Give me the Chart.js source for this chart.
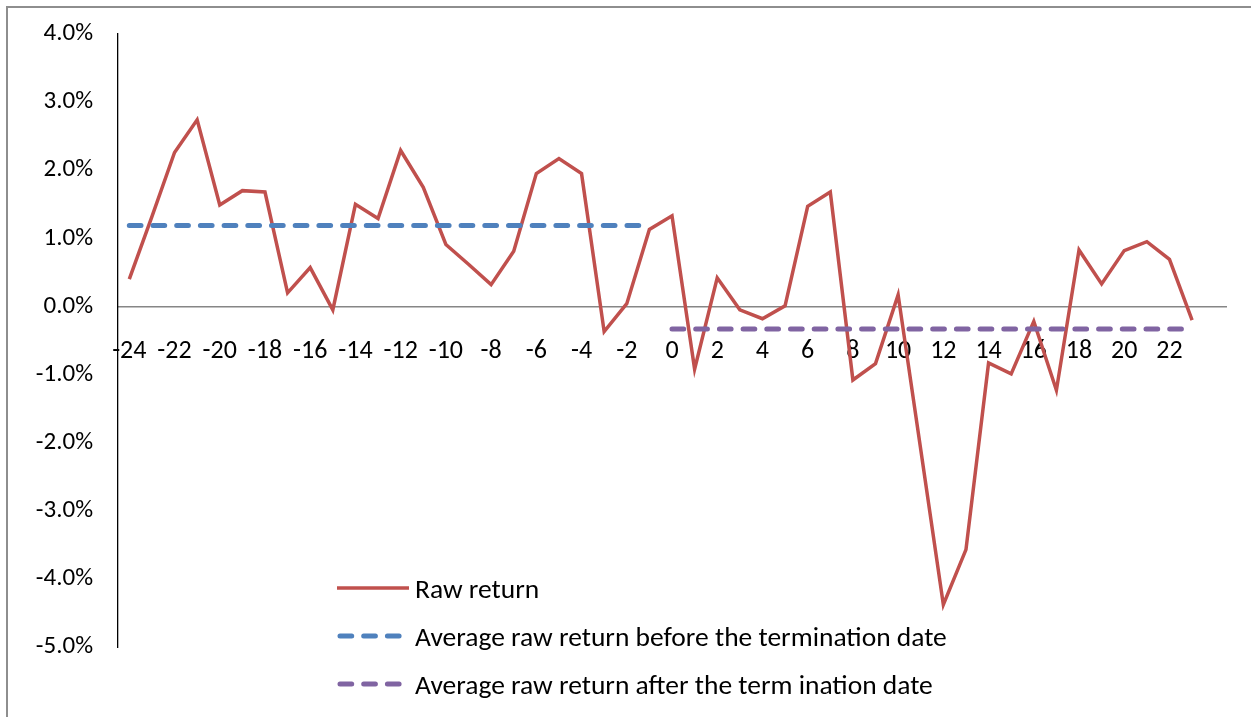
<!DOCTYPE html>
<html>
<head>
<meta charset="utf-8">
<script src="https://cdn.jsdelivr.net/npm/chart.js@4.4.1/dist/chart.umd.min.js"></script>
<style>
  html, body { margin: 0; padding: 0; background: #fff; overflow: hidden; }
  #wrap { position: relative; width: 1251px; height: 717px; }
  #frame {
    position: absolute; left: 6px; top: 6px; width: 1300px; height: 800px;
    border: 2px solid #8e8e8e; box-sizing: border-box;
  }
  #chart { position: absolute; left: 0; top: 0; }
  .leg {
    position: absolute; left: 335px; height: 30px;
    font-family: Carlito, Lato, "Liberation Sans", sans-serif; font-size: 27.5px; color: #000;
    display: flex; align-items: center; white-space: nowrap;
  }
  .leg svg { margin-right: 4px; }
</style>
</head>
<body>
<div id="wrap">
  <div id="frame"></div>
  <canvas id="chart" width="1251" height="717"></canvas>
  <div class="leg" style="top:573px">
    <svg width="76" height="10"><line x1="2" y1="5" x2="74" y2="5" stroke="#C0504D" stroke-width="3.5"/></svg>
    Raw return
  </div>
  <div class="leg" style="top:621px">
    <svg width="76" height="10"><line x1="5" y1="5" x2="72" y2="5" stroke="#4F81BD" stroke-width="5" stroke-linecap="round" stroke-dasharray="11.7 12"/></svg>
    Average raw return before the termination date
  </div>
  <div class="leg" style="top:669px">
    <svg width="76" height="10"><line x1="5" y1="5" x2="72" y2="5" stroke="#8064A2" stroke-width="5" stroke-linecap="round" stroke-dasharray="11.7 12"/></svg>
    Average raw return after the term ination date
  </div>
</div>

<script>
// months relative to the termination date (last slot is an empty category)
const months = ['-24','-23','-22','-21','-20','-19','-18','-17','-16','-15','-14','-13',
  '-12','-11','-10','-9','-8','-7','-6','-5','-4','-3','-2','-1',
  '0','1','2','3','4','5','6','7','8','9','10','11',
  '12','13','14','15','16','17','18','19','20','21','22','23',''];

// raw return, in percent
const rawReturn = [0.40, 1.32, 2.26, 2.74, 1.49, 1.70, 1.68, 0.20, 0.57, -0.05, 1.50, 1.29,
  2.29, 1.75, 0.91, 0.62, 0.32, 0.81, 1.95, 2.17, 1.95, -0.37, 0.04, 1.13,
  1.33, -0.92, 0.42, -0.05, -0.18, 0.01, 1.47, 1.68, -1.08, -0.84, 0.17, -2.10,
  -4.38, -3.57, -0.83, -0.99, -0.22, -1.23, 0.83, 0.33, 0.82, 0.95, 0.69, -0.20];

// averages: flat lines, start and end month
const avgBeforeX = ['-24', '-1'];
const avgBefore = [1.19, 1.19];
const avgAfterX = ['0', '23'];
const avgAfter = [-0.33, -0.33];

const yTicks = [4, 3, 2, 1, 0, -1, -2, -3, -4, -5];

const FONT = "Carlito, Lato, 'Liberation Sans', sans-serif";

const toPoints = (xs, ys) => xs.map((x, i) => ({ x: x, y: ys[i] }));

new Chart(document.getElementById("chart"), {
  type: "line",
  data: {
    labels: months,
    datasets: [
      {
        label: "Raw return",
        data: rawReturn,
        borderColor: "#C0504D",
        borderWidth: 3.5,
        pointRadius: 0,
        tension: 0,
        order: 2
      },
      {
        label: "Average raw return before the termination date",
        data: toPoints(avgBeforeX, avgBefore),
        borderColor: "#4F81BD",
        borderWidth: 5,
        borderDash: [11.7, 12],
        borderCapStyle: "round",
        pointRadius: 0,
        order: 1
      },
      {
        label: "Average raw return after the term ination date",
        data: toPoints(avgAfterX, avgAfter),
        borderColor: "#8064A2",
        borderWidth: 5,
        borderDash: [11.7, 12],
        borderCapStyle: "round",
        pointRadius: 0,
        order: 1
      }
    ]
  },
  options: {
    responsive: false,
    animation: false,
    layout: { padding: { left: 0, top: 34, right: 25, bottom: 70 } },
    plugins: {
      legend: { display: false },
      tooltip: { enabled: false }
    },
    scales: {
      x: {
        type: "category",
        offset: true,
        position: { y: 0 },
        grid: { drawOnChartArea: false, drawTicks: false },
        border: { display: true, color: "#868686", width: 1.5 },
        ticks: {
          autoSkip: false,
          maxRotation: 0,
          padding: 29,
          color: "#000",
          font: { family: FONT, size: 26 },
          callback: function (v, i) {
            const l = months[i];
            return (i % 2 === 0 && l !== '') ? l : '';
          }
        }
      },
      y: {
        min: -5,
        max: 4,
        afterFit: s => {
          s.width = 118;
          // don't let the label padding push the plot area down
          s.paddingTop = 0;
          s.paddingBottom = 0;
        },
        afterBuildTicks: s => { s.ticks = yTicks.map(v => ({ value: v })); },
        grid: { drawOnChartArea: false, drawTicks: false },
        border: { display: true, color: "#000", width: 1.3, dash: [5, 2] },
        ticks: {
          padding: 25,
          color: "#000",
          font: { family: FONT, size: 25 },
          callback: v => v.toFixed(1) + '%'
        }
      }
    }
  }
});
</script>
</body>
</html>
